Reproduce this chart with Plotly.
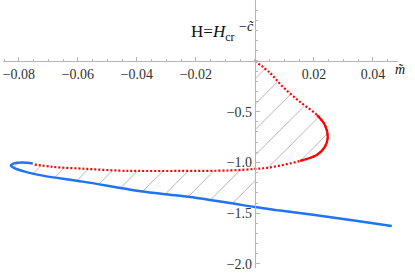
import plotly.graph_objects as go

# red boundary curve (dotted), from origin round the bulge then to the left
red_x = [0.0, 0.0051, 0.0095, 0.0153, 0.0210, 0.0237, 0.0247, 0.0237, 0.0210, 0.0153,
         0.0095, 0.0041, 0.0, -0.0085, -0.0254, -0.0397, -0.0458, -0.0569, -0.0685, -0.0754]
red_y = [0.0, -0.118, -0.256, -0.404, -0.532, -0.631, -0.749, -0.847, -0.926, -0.985,
         -1.025, -1.054, -1.064, -1.079, -1.084, -1.084, -1.081, -1.064, -1.044, -1.018]

# blue curve (solid) with small loop at the left end
blue_x = [-0.0753, -0.0790, -0.0817, -0.0827, -0.0817, -0.0780, -0.0719, -0.0583, -0.0400,
          -0.0312, -0.0197, -0.0085, 0.0, 0.0085, 0.0197, 0.0330, 0.0464]
blue_y = [-1.010, -1.000, -1.010, -1.030, -1.054, -1.091, -1.130, -1.189, -1.278,
          -1.310, -1.350, -1.399, -1.440, -1.474, -1.516, -1.570, -1.626]

x_ticks = [-0.08, -0.06, -0.04, -0.02, 0.02, 0.04]
x_tick_text = ["\u22120.08", "\u22120.06", "\u22120.04", "\u22120.02", "0.02", "0.04"]
y_ticks = [-0.5, -1.0, -1.5, -2.0]
y_tick_text = ["\u22120.5", "\u22121.0", "\u22121.5", "\u22122.0"]

X_RANGE = [-0.0854, 0.0485]
Y_RANGE = [-2.04, 0.6]

FONT = "Liberation Serif"

fig = go.Figure()

# hatched region: red curve, then blue curve up to the vertical axis
k0 = blue_x.index(0.0)
hx = red_x + blue_x[:k0 + 1]
hy = red_y + blue_y[:k0 + 1]
fig.add_trace(go.Scatter(
    x=hx, y=hy, mode="lines", fill="toself",
    line=dict(width=0, color="rgba(0,0,0,0)"),
    fillcolor="rgba(0,0,0,0)",
    fillpattern=dict(shape="/", size=18, solidity=0.05, fgcolor="#555555",
                     bgcolor="rgba(0,0,0,0)"),
    hoverinfo="skip", showlegend=False))

fig.add_trace(go.Scatter(
    x=blue_x, y=blue_y, mode="lines", line=dict(color="#1f74f5", width=2.5, shape="spline"),
    showlegend=False))

fig.add_trace(go.Scatter(
    x=red_x, y=red_y, mode="lines",
    line=dict(color="#ff0000", width=2.2, dash="2px,2px", shape="spline"),
    showlegend=False))
fig.add_trace(go.Scatter(
    x=red_x[4:10], y=red_y[4:10], mode="lines",
    line=dict(color="#ff0000", width=2.2, shape="spline"),
    showlegend=False))

x0_frac = (0 - X_RANGE[0]) / (X_RANGE[1] - X_RANGE[0])
y0_frac = (0 - Y_RANGE[0]) / (Y_RANGE[1] - Y_RANGE[0])

fig.update_layout(
    width=415, height=274,
    margin=dict(l=3, r=17, t=0, b=6),
    paper_bgcolor="white", plot_bgcolor="white",
    font=dict(family=FONT, size=13, color="#333333"),
    xaxis=dict(range=X_RANGE, anchor="free", position=y0_frac, side="bottom",
               automargin=False,
               showline=True, linecolor="#b5b5b5", linewidth=1,
               showgrid=False, zeroline=False,
               tickvals=x_ticks, ticktext=x_tick_text,
               ticks="inside", ticklen=4, tickcolor="#b5b5b5",
               minor=dict(dtick=0.005, tick0=0, ticks="inside", ticklen=2, tickcolor="#b5b5b5"),
               tickfont=dict(family=FONT, size=14, color="#333333")),
    yaxis=dict(range=Y_RANGE, anchor="free", position=x0_frac, side="left",
               automargin=False,
               showline=True, linecolor="#b5b5b5", linewidth=1,
               showgrid=False, zeroline=False,
               tickvals=y_ticks, ticktext=y_tick_text,
               ticks="inside", ticklen=4, tickcolor="#b5b5b5",
               minor=dict(dtick=0.1, tick0=0, ticks="inside", ticklen=2, tickcolor="#b5b5b5"),
               ticklabelstandoff=0,
               tickfont=dict(family=FONT, size=14, color="#333333")),
    annotations=[
        dict(x=-0.01424, y=0.276, xref="x", yref="y", showarrow=False,
             text="H=<i>H</i><sub>cr</sub>", font=dict(family=FONT, size=17, color="#111111")),
        dict(x=-0.0027, y=0.335, xref="x", yref="y", showarrow=False,
             text="\u2212<i>c\u0303</i>", font=dict(family=FONT, size=14, color="#111111")),
        dict(x=(407 - 3) / 395, y=y0_frac + 0.003, xref="paper", yref="paper", showarrow=False,
             text="<i>m\u0303</i>", font=dict(family=FONT, size=14, color="#111111")),
    ],
)

fig.write_html("out.html", config={"displayModeBar": False},
               post_script="document.body.style.margin='0';document.body.style.overflow='hidden';")
